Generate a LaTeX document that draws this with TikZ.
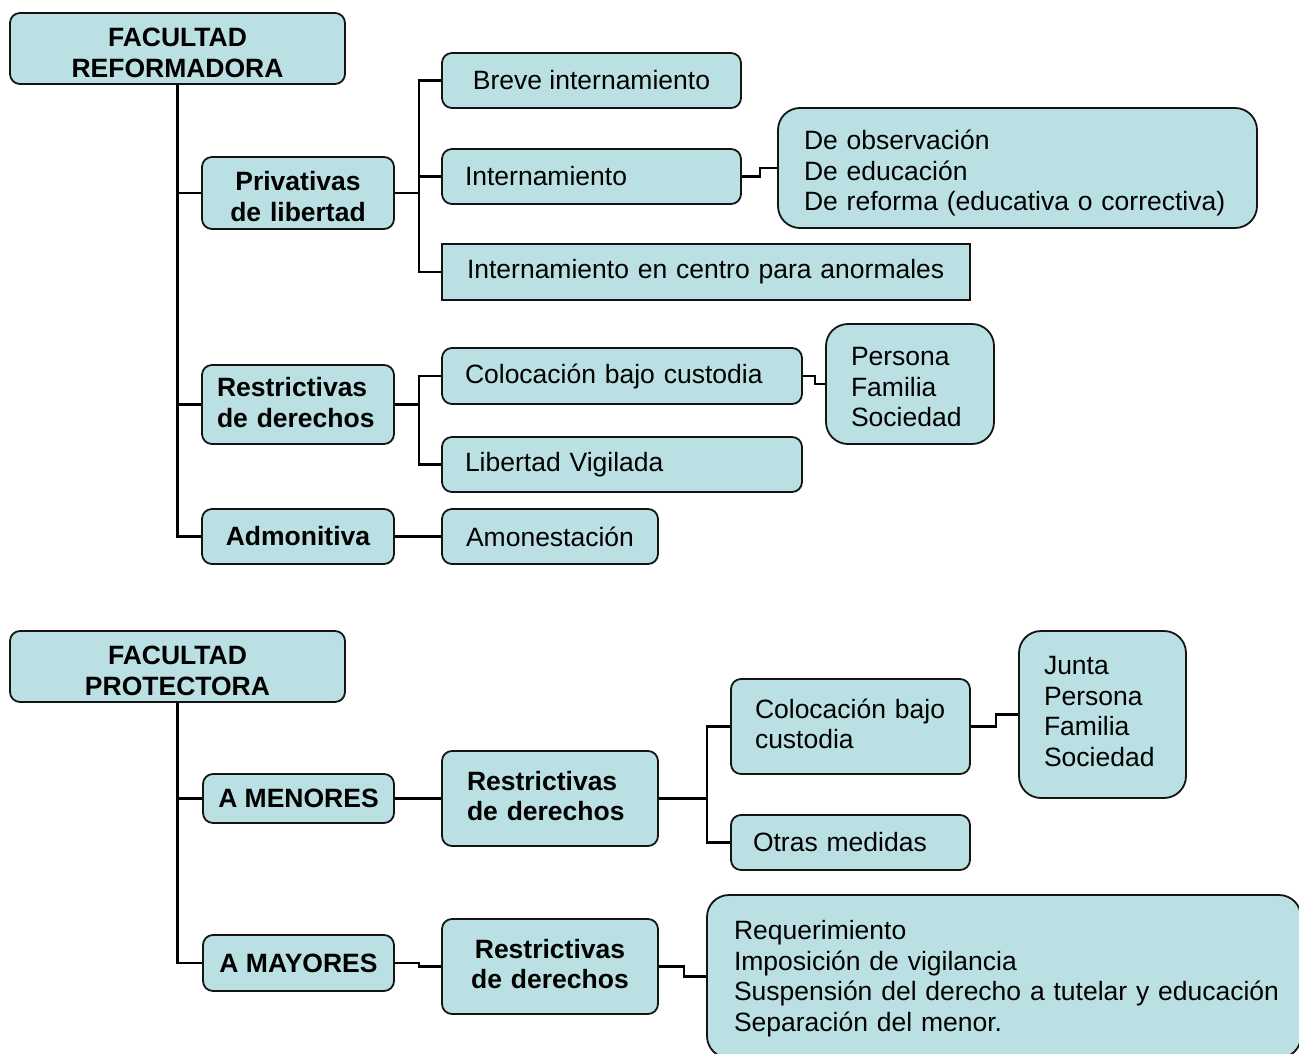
\documentclass[tikz,border=0pt]{standalone}
\usepackage{fontspec}
\setmainfont{Liberation Sans}
\definecolor{boxfill}{RGB}{186,224,227}
\definecolor{boxline}{RGB}{20,20,20}
\begin{document}
\begin{tikzpicture}[x=1pt,y=-1pt,
  box/.style={draw=boxline, fill=boxfill, line width=1.8pt, rounded corners=10pt, inner ysep=2pt, font=\fontsize{26.5}{30.6}\selectfont},
  big/.style={rounded corners=22pt},
  bx/.style={font=\fontsize{26.5}{30.6}\selectfont\bfseries},
  cb/.style={box, align=center, minimum width=#1},
  ct/.style 2 args={box, align=center, inner xsep=#1, text width=#2},
  lb/.style 2 args={box, align=left, inner xsep=#1, text width=#2},
  hd/.style 2 args={text height=#1, text depth=#2},
  link/.style={line width=2.4pt, black}]
\useasboundingbox (0,0) rectangle (1299,1054);
\clip (0,0) rectangle (1299,1054);

% ---- Facultad reformadora ----
\node[ct={10pt}{315pt}, bx, hd={18pt}{22pt}, minimum height=71pt] (fr) at (177.5,48.5) {FACULTAD\\REFORMADORA};
\node[ct={8pt}{176pt}, bx, hd={17.7pt}{22.3pt}, minimum height=72pt] (priv) at (298,193) {Privativas\\de libertad};
\node[lb={15pt}{162pt}, bx, hd={12.2pt}{27.8pt}, minimum height=79pt] (res1) at (298,404.5) {Restrictivas\\de derechos};
\node[cb=192pt, bx, minimum height=55pt] (adm) at (298,536.5) {Admonitiva};
\node[cb=299pt, minimum height=55pt] (breve) at (591.5,80.5) {Breve internamiento};
\node[lb={23pt}{253pt}, minimum height=55pt] (intern) at (591.5,176.5) {Internamiento};
\node[lb={25pt}{478pt}, minimum height=56pt, sharp corners] (anorm) at (706,272) {Internamiento en centro para anormales};
\node[lb={26pt}{427pt}, big, hd={11.5pt}{48.5pt}, minimum height=120pt] (obs) at (1017.5,168) {De observación\\De educación\\De reforma (educativa o correctiva)};
\node[lb={23pt}{314pt}, minimum height=56pt] (col1) at (622,376) {Colocación bajo custodia};
\node[lb={25pt}{118pt}, big, hd={11.5pt}{48.5pt}, minimum height=120pt] (pers) at (910,384) {Persona\\Familia\\Sociedad};
\node[lb={23pt}{314pt}, minimum height=55pt] (lib) at (622,464.5) {Libertad Vigilada};
\node[cb=216pt, minimum height=55pt] (amon) at (550,536.5) {Amonestación};

% ---- Facultad protectora ----
\node[ct={10pt}{315pt}, bx, hd={18pt}{22pt}, minimum height=71pt] (fp) at (177.5,666.5) {FACULTAD\\PROTECTORA};
\node[cb=191pt, bx, minimum height=49pt] (amen) at (298.5,798.5) {A MENORES};
\node[cb=191pt, bx, minimum height=56pt] (amay) at (298.5,963) {A MAYORES};
\node[lb={25pt}{166pt}, bx, hd={11.5pt}{28.5pt}, minimum height=95pt] (r2a) at (550,798.5) {Restrictivas\\de derechos};
\node[ct={10pt}{196pt}, bx, hd={11.8pt}{28.2pt}, minimum height=95pt] (r2b) at (550,966.5) {Restrictivas\\de derechos};
\node[lb={24pt}{191pt}, hd={11.5pt}{28.5pt}, minimum height=95pt] (col2) at (850.5,726.5) {\mbox{Colocación bajo}\\custodia};
\node[lb={25pt}{117pt}, big, hd={10pt}{90pt}, minimum height=167pt] (junta) at (1102.5,714.5) {Junta\\Persona\\Familia\\Sociedad};
\node[lb={22pt}{195pt}, minimum height=55pt] (otras) at (850.5,842.5) {Otras medidas};
\node[lb={27pt}{540pt}, big, hd={13pt}{87pt}, minimum height=163pt] (req) at (1004,976.5) {Requerimiento\\Imposición de vigilancia\\\mbox{Suspensión del derecho a tutelar y educación}\\Separación del menor.};

% ---- connectors ----
\draw[link] (fr.south) |- (priv.west);
\draw[link] (fr.south) |- (res1.west);
\draw[link] (fr.south) |- (adm.west);
\draw[link] (priv.east) -- ++(24,0) coordinate (j1);
\draw[link] (j1) |- (breve.west);
\draw[link] (j1) |- (intern.west);
\draw[link] (j1) |- (anorm.west);
\draw[link] (intern.east) -- ++(18,0) |- (obs.west);
\draw[link] (res1.east) -- ++(24,0) coordinate (j2);
\draw[link] (j2) |- (col1.west);
\draw[link] (j2) |- (lib.west);
\draw[link] (col1.east) -- ++(12,0) |- (pers.west);
\draw[link] (adm.east) -- (amon.west);

\draw[link] (fp.south) |- (amen.west);
\draw[link] (fp.south) |- (amay.west);
\draw[link] (amen.east) -- (r2a.west);
\draw[link] (amay.east) -- ++(24,0) |- (r2b.west);
\draw[link] (r2a.east) -- ++(48,0) coordinate (j3);
\draw[link] (j3) |- (col2.west);
\draw[link] (j3) |- (otras.west);
\draw[link] (col2.east) -- ++(25,0) |- (junta.west);
\draw[link] (r2b.east) -- ++(25,0) |- (req.west);
\end{tikzpicture}
\end{document}
